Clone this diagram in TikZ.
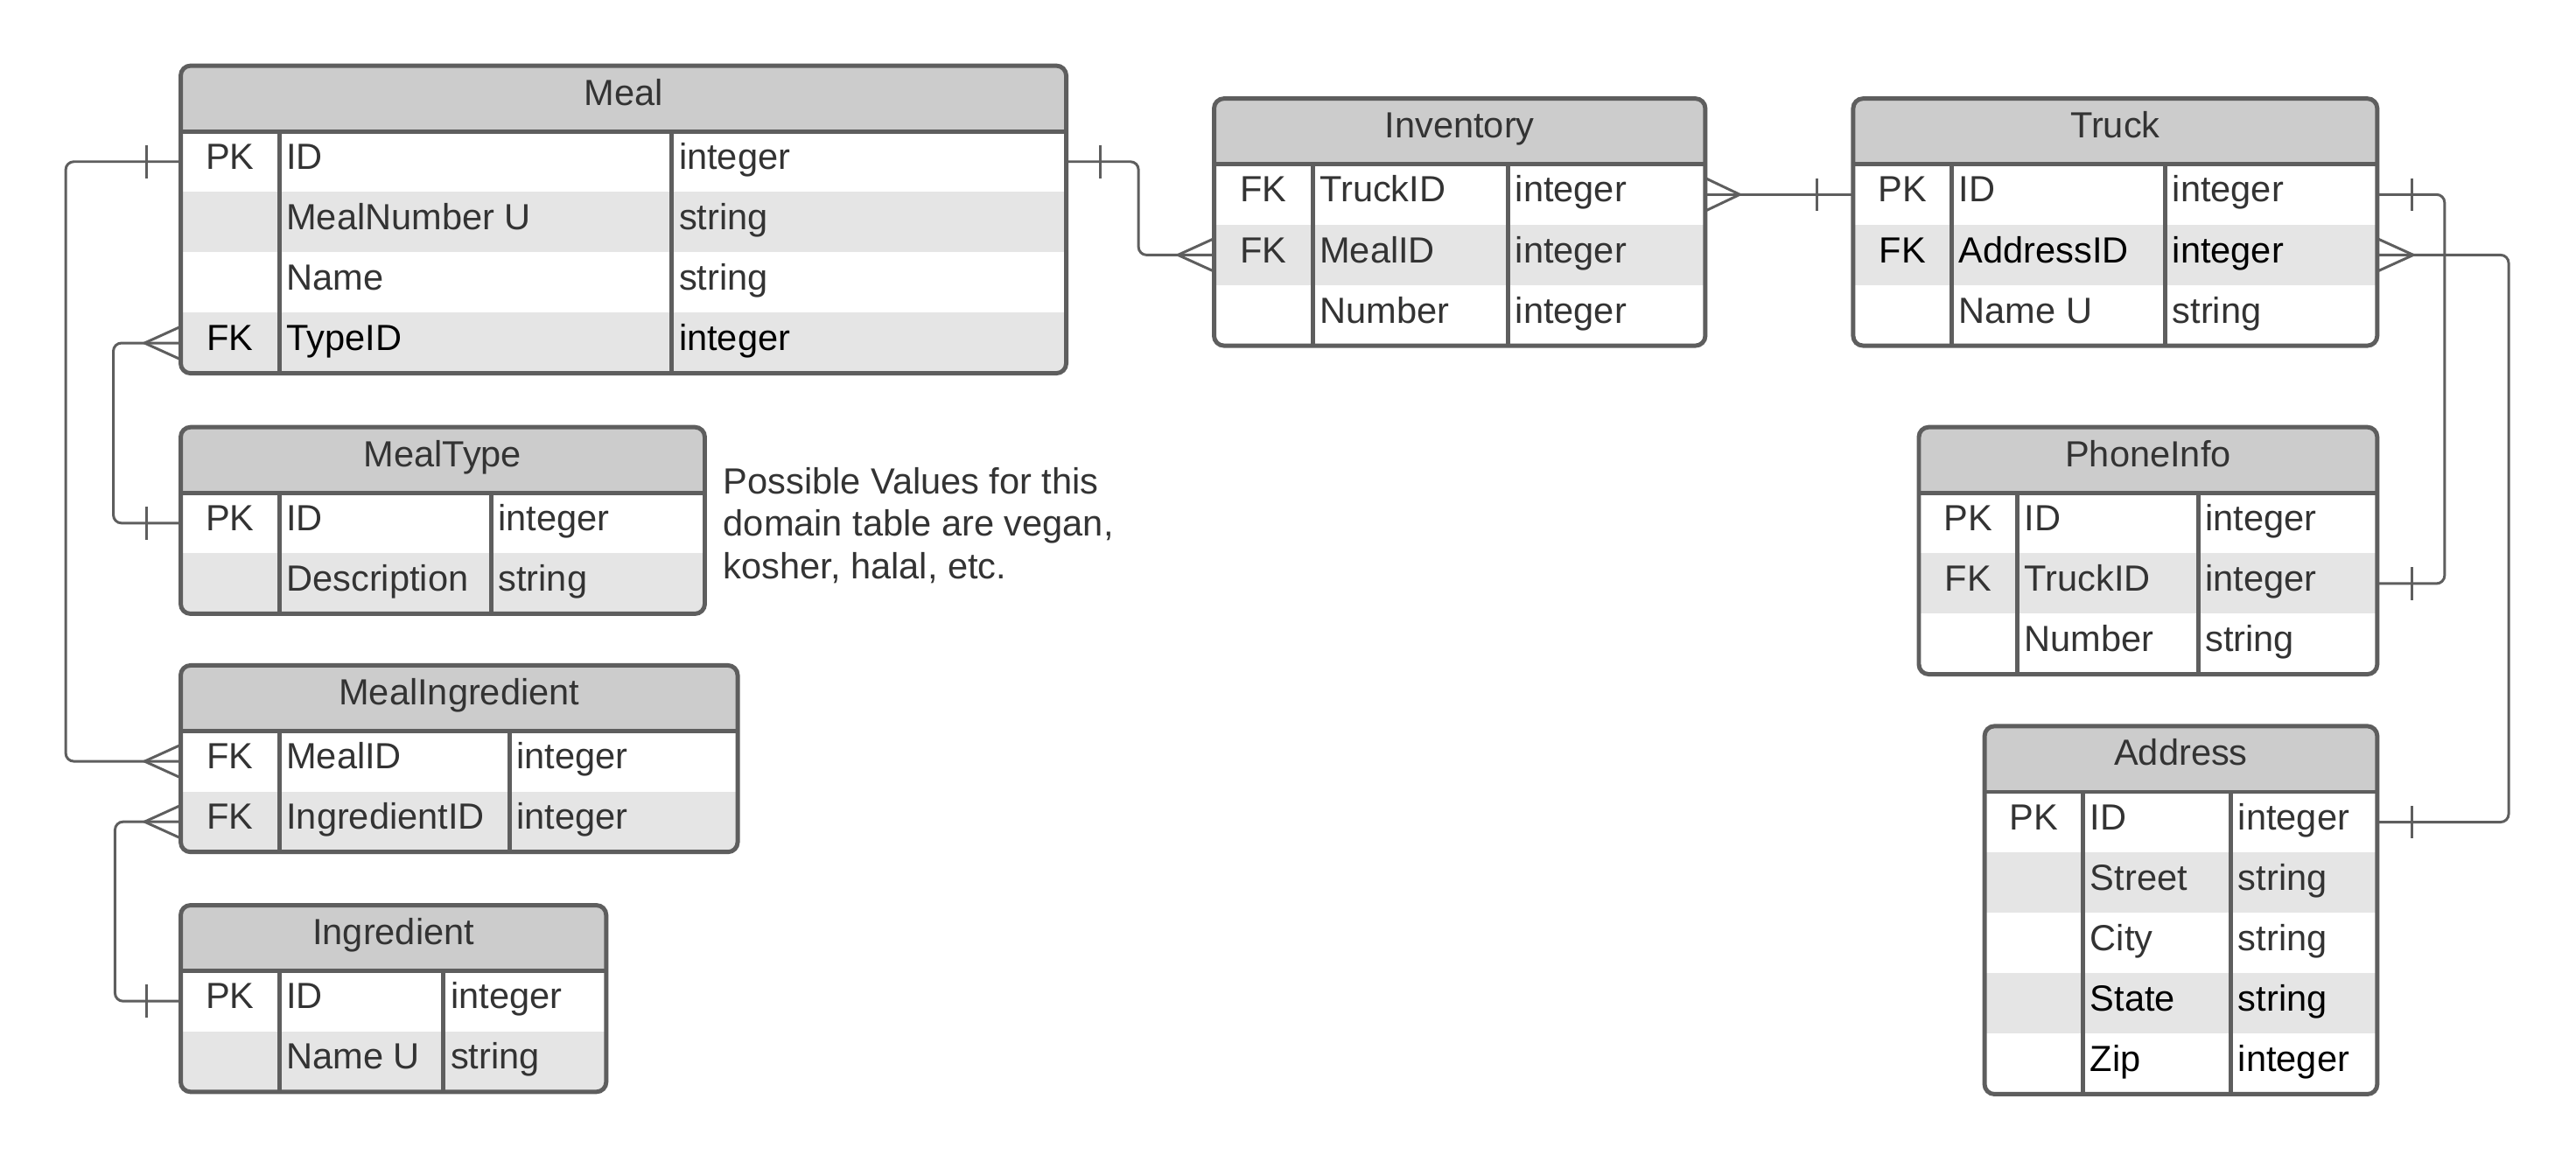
\documentclass[tikz,border=0pt]{standalone}
\usepackage{fontspec}
\setmainfont{Liberation Sans}
\usetikzlibrary{calc}
\definecolor{txt}{HTML}{333333}
\definecolor{frm}{HTML}{5E5E5E}
\definecolor{hdr}{HTML}{CCCCCC}
\definecolor{alt}{HTML}{E5E5E5}
\tikzset{
  frame/.style={draw=frm, line width=1.5pt},
  conn/.style={draw=frm, line width=0.9pt, rounded corners=2.8pt},
  rowbox/.style={inner sep=0pt, outer sep=0pt, minimum height=0.736cm},
  celltext/.style={inner sep=0pt, font=\fontsize{12.6}{14.7}\selectfont}
}
\newcommand\RH{36.8}
% #1 name, #2 title, #3 left, #4 top, #5 right, #6 col1, #7 col2, #8 rows, #9 row list
\newcommand\ertable[9]{%
  \pgfmathsetmacro\erH{#4+40}%
  \pgfmathsetmacro\erB{#4+40+#8*\RH}%
  \begin{scope}
    \clip[rounded corners=3.4pt] (#3,#4) rectangle (#5,\erB);
    \fill[white] (#3,#4) rectangle (#5,\erB);
    \fill[hdr] (#3,#4) rectangle (#5,\erH);
    \node[celltext, text=txt, anchor=base] (#1) at ({(#3+#5)/2},{#4+24}) {#2};
    \foreach \rk/\rf/\rt/\rg/\rc [count=\ri] in {#9} {
      \pgfmathsetmacro\ry{\erH+(\ri-1)*\RH}
      \ifnum\rg=1 \fill[alt] (#3,\ry) rectangle (#5,{\ry+\RH}); \fi
      \node[rowbox, minimum width={(#5-#3)*0.02cm}] (#1-\ri) at ({(#3+#5)/2},{\ry+\RH/2}) {};
      \node[celltext, text=\rc, anchor=base] at ({(#3+#6)/2},{\ry+23}) {\rk};
      \node[celltext, text=\rc, anchor=base west] at ({#6+4},{\ry+23}) {\rf};
      \node[celltext, text=\rc, anchor=base west] at ({#7+4},{\ry+23}) {\rt};
    }
  \end{scope}
  \draw[frame, rounded corners=3.4pt] (#3,#4) rectangle (#5,\erB);
  \draw[frame] (#3,\erH) -- (#5,\erH);
  \draw[frame] (#6,\erH) -- (#6,\erB) (#7,\erH) -- (#7,\erB);
}
\newcommand\barmark[2]{\draw[conn] ($(#1)+(#2,-10)$) -- ($(#1)+(#2,10)$);}
\newcommand\crowfoot[2]{\draw[conn, rounded corners=0pt] ($(#1)+(0,-10)$) -- ($(#1)+(#2,0)$) -- ($(#1)+(0,10)$);}
\begin{document}
\begin{tikzpicture}[x=0.02cm, y=-0.02cm]
\useasboundingbox (0,0) rectangle (1568,707);
\fill[white] (0,0) rectangle (1568,707);

\ertable{meal}{Meal}{110}{40}{649}{170}{409}{4}{PK/ID/integer/0/txt, {}/MealNumber U/string/1/txt, {}/Name/string/0/txt, FK/TypeID/integer/1/black}
\ertable{inv}{Inventory}{739}{60}{1038}{799}{918}{3}{FK/TruckID/integer/0/txt, FK/MealID/integer/1/txt, {}/Number/integer/0/txt}
\ertable{truck}{Truck}{1128}{60}{1447}{1188}{1318}{3}{PK/ID/integer/0/txt, FK/AddressID/integer/1/black, {}/Name U/string/0/txt}
\ertable{mt}{MealType}{110}{260}{429}{170}{299}{2}{PK/ID/integer/0/txt, {}/Description/string/1/txt}
\ertable{ph}{PhoneInfo}{1168}{260}{1447}{1228}{1338}{3}{PK/ID/integer/0/txt, FK/TruckID/integer/1/txt, {}/Number/string/0/txt}
\ertable{mi}{MealIngredient}{110}{405}{449}{170}{310}{2}{FK/MealID/integer/0/txt, FK/IngredientID/integer/1/txt}
\ertable{addr}{Address}{1208}{442}{1447}{1268}{1358}{5}{PK/ID/integer/0/txt, {}/Street/string/1/txt, {}/City/string/0/txt, {}/State/string/1/black, {}/Zip/integer/0/black}
\ertable{ing}{Ingredient}{110}{551}{369}{170}{270}{2}{PK/ID/integer/0/txt, {}/Name U/string/1/txt}

\node[celltext, text=txt, anchor=north west, align=left] (note) at (440,284)
  {Possible Values for this\\domain table are vegan,\\kosher, halal, etc.};

% Meal -- MealIngredient
\draw[conn] (meal-1.west) -- ++(-70,0) |- (mi-1.west);
\barmark{meal-1.west}{-21}
\crowfoot{mi-1.west}{-22}
% Meal -- MealType
\draw[conn] (meal-4.west) -- ++(-41,0) |- (mt-1.west);
\crowfoot{meal-4.west}{-22}
\barmark{mt-1.west}{-21}
% MealIngredient -- Ingredient
\draw[conn] (mi-2.west) -- ++(-40,0) |- (ing-1.west);
\crowfoot{mi-2.west}{-22}
\barmark{ing-1.west}{-21}
% Meal -- Inventory
\draw[conn] (meal-1.east) -- ++(44,0) |- (inv-2.west);
\barmark{meal-1.east}{21}
\crowfoot{inv-2.west}{-22}
% Inventory -- Truck
\draw[conn] (inv-1.east) -- (truck-1.west);
\crowfoot{inv-1.east}{21}
\barmark{truck-1.west}{-22}
% Truck -- PhoneInfo
\draw[conn] (truck-1.east) -- ++(41,0) |- (ph-2.east);
\barmark{truck-1.east}{21}
\barmark{ph-2.east}{21}
% Truck -- Address
\draw[conn] (truck-2.east) -- ++(80,0) |- (addr-1.east);
\crowfoot{truck-2.east}{22}
\barmark{addr-1.east}{21}
\end{tikzpicture}
\end{document}
